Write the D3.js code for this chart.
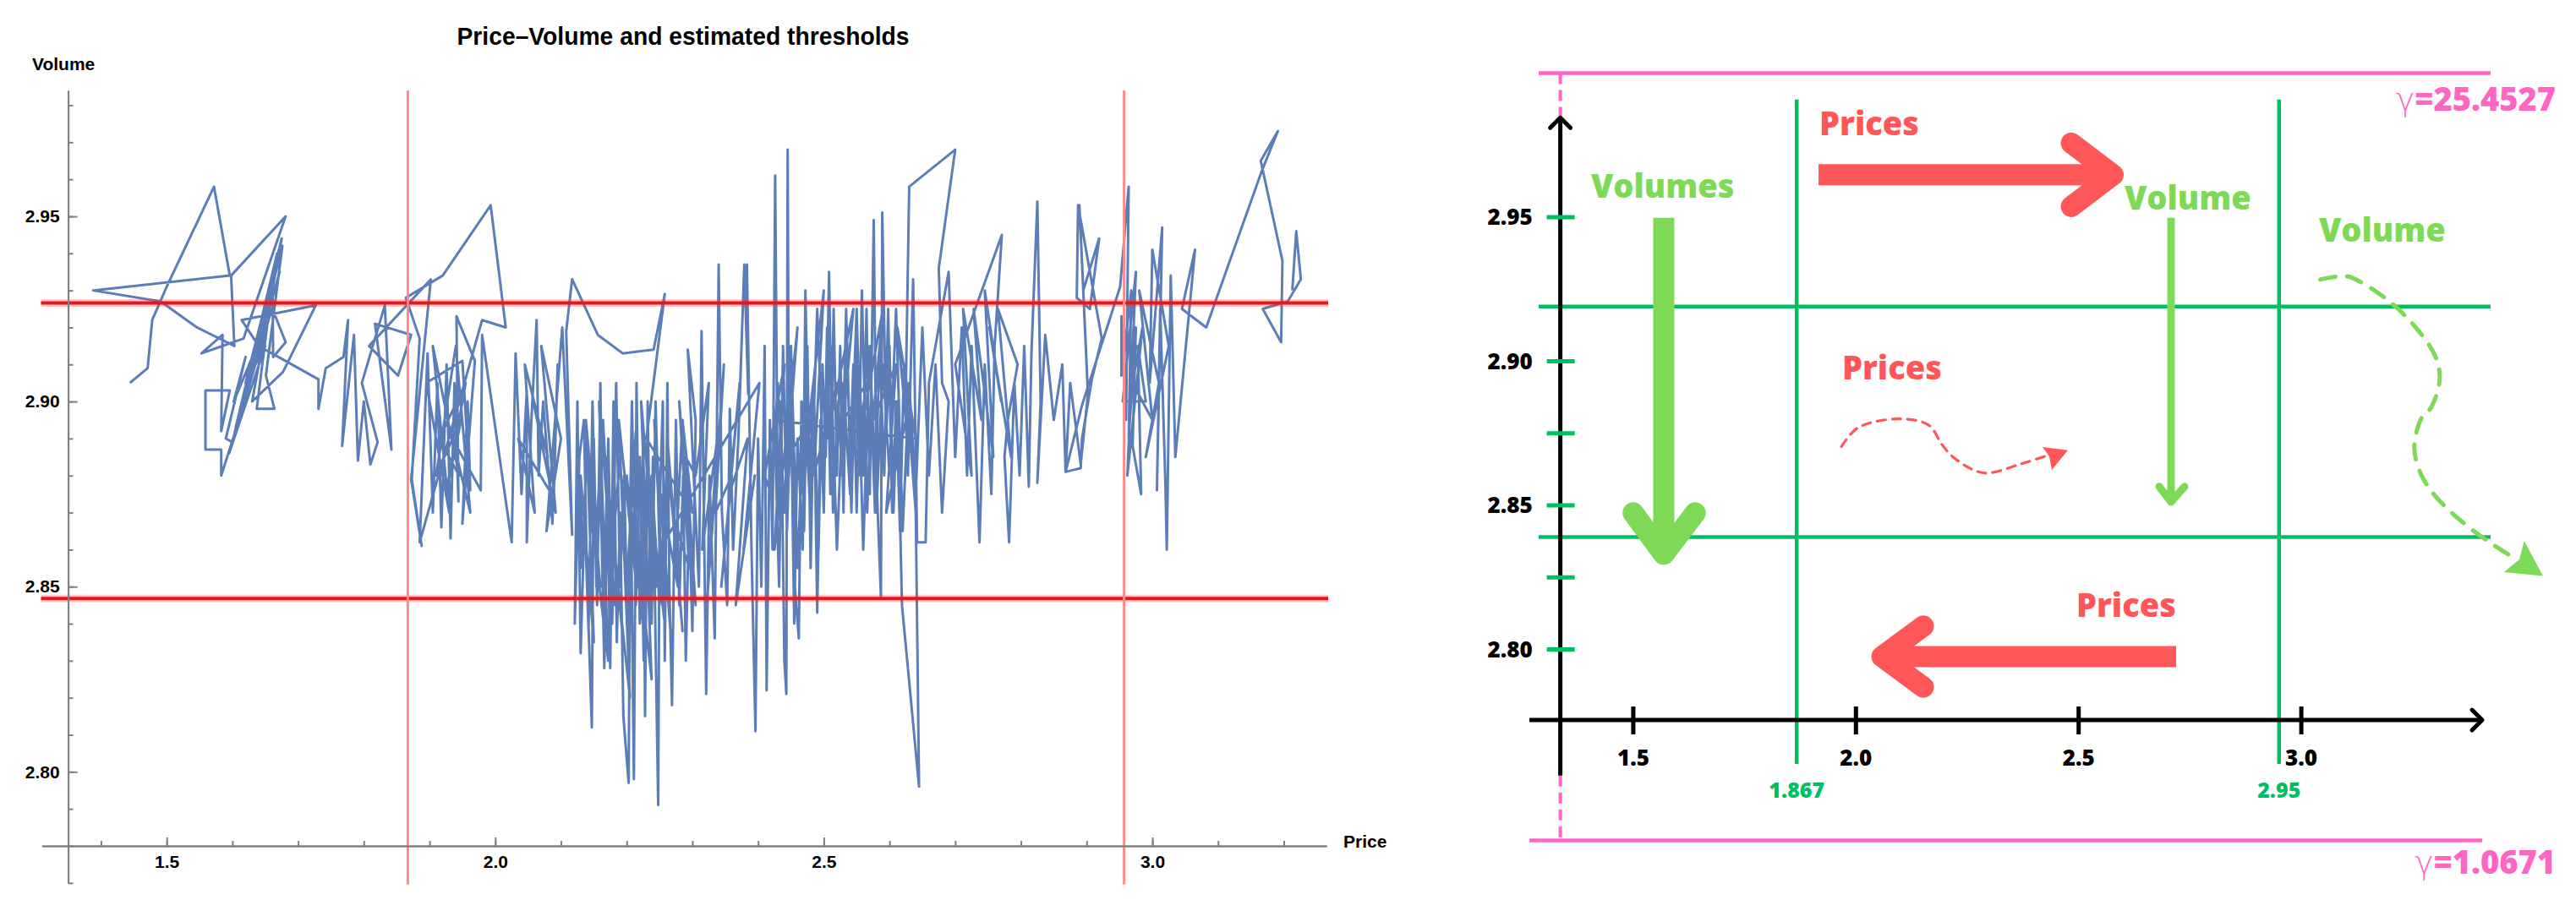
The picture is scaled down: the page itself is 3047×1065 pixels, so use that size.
<!DOCTYPE html>
<html lang="en">
<head>
<meta charset="UTF-8">
<title>Price–Volume and estimated thresholds</title>
<script src="https://cdn.jsdelivr.net/npm/d3@7"></script>
<style>
  body { margin: 0; background: #fff; }
  .mma text { font-family: "Liberation Sans", Arial, sans-serif; font-weight: bold; fill: #000; font-size: 21px; }
  .sketch text { font-family: "Open Sans", sans-serif; font-weight: 800; }
</style>
</head>
<body>
<svg id="chart" width="3047" height="1065"></svg>
<script>
// ---------- left plot: the price/volume walk ----------
// [price, volume], in drawing order
const walk = [
  [1.444,2.905],[1.471,2.909],[1.478,2.922],[1.500,2.931],[1.572,2.958],[1.596,2.934],[1.388,2.930],[1.491,2.927],
  [1.546,2.920],[1.603,2.915],[1.598,2.934],[1.681,2.950],[1.617,2.917],[1.553,2.913],[1.585,2.918],[1.583,2.892],
  [1.596,2.903],[1.559,2.903],[1.559,2.887],[1.583,2.887],[1.583,2.880],[1.610,2.895],[1.676,2.942],[1.651,2.907],
  [1.664,2.898],[1.637,2.898],[1.661,2.932],[1.662,2.912],[1.681,2.916],[1.661,2.925],[1.602,2.900],[1.620,2.912],
  [1.590,2.890],[1.600,2.889],[1.668,2.940],[1.605,2.893],[1.672,2.935],[1.612,2.897],[1.660,2.925],[1.595,2.886],
  [1.650,2.915],[1.620,2.905],[1.675,2.944],[1.630,2.900],
  [1.677,2.908],[1.727,2.926],[1.614,2.922],[1.640,2.915],[1.731,2.906],[1.731,2.898],[1.742,2.909],
  [1.769,2.912],[1.776,2.922],[1.767,2.888],[1.785,2.918],[1.791,2.884],[1.800,2.900],[1.810,2.883],[1.821,2.889],
  [1.797,2.905],[1.832,2.926],[1.842,2.887],[1.817,2.921],[1.872,2.918],[1.852,2.907],[1.808,2.915],[1.902,2.933],
  [1.872,2.879],[1.888,2.861],[1.873,2.879],[1.885,2.917],[1.864,2.928],[1.920,2.934],[1.993,2.953],[2.016,2.920],
  [1.980,2.922],[1.885,2.862],[1.897,2.913],[1.905,2.870],[1.912,2.905],[1.918,2.866],[1.926,2.910],[1.932,2.863],
  [1.938,2.905],[1.944,2.873],[1.941,2.923],[1.969,2.911],[1.950,2.867],[1.958,2.900],[1.962,2.876],[1.950,2.911],
  [1.895,2.905],[1.930,2.870],[1.905,2.915],[1.945,2.880],[1.915,2.890],[1.955,2.905],[1.925,2.875],[1.948,2.895],
  [1.910,2.880],[1.940,2.915],[1.962,2.870],[1.935,2.890],
  [1.978,2.876],[1.980,2.918],[2.025,2.862],[2.031,2.913],[2.040,2.875],[2.048,2.903],[2.048,2.862],[2.055,2.895],
  [2.063,2.922],[2.066,2.880],[2.073,2.900],[2.087,2.867],[2.095,2.910],[2.089,2.874],
  [2.035,2.890],[2.060,2.870],[2.045,2.910],[2.080,2.885],[2.058,2.900],[2.092,2.870],[2.070,2.915],[2.100,2.890],
  [2.078,2.865],
  [2.102,2.920],[2.117,2.864],
  [2.108,2.919],[2.117,2.933],[2.156,2.918],[2.194,2.913],[2.241,2.914],[2.258,2.929],[2.230,2.890],
  [2.300,2.870],[2.285,2.895],[2.275,2.860],[2.262,2.885],[2.250,2.845],[2.238,2.880],[2.226,2.858],[2.214,2.892],
  [2.200,2.850],[2.190,2.885],[2.176,2.855],[2.164,2.895],[2.152,2.860],[2.140,2.890],[2.132,2.855],
  [2.130,2.880],[2.150,2.835],[2.138,2.895],[2.160,2.850],[2.145,2.870],[2.172,2.830],[2.158,2.900],[2.182,2.845],
  [2.168,2.885],[2.195,2.835],[2.178,2.865],[2.205,2.820],[2.188,2.895],[2.215,2.850],[2.200,2.880],[2.228,2.835],
  [2.210,2.870],[2.238,2.825],[2.222,2.900],[2.246,2.850],[2.232,2.880],[2.258,2.840],[2.242,2.895],[2.268,2.835],
  [2.252,2.875],[2.278,2.850],[2.262,2.890],[2.285,2.838],[2.270,2.870],[2.295,2.855],[2.280,2.900],[2.305,2.845],
  [2.290,2.885],
  [2.305,2.880],[2.325,2.905],[2.315,2.860],[2.338,2.890],[2.322,2.845],[2.348,2.910],[2.335,2.870],[2.360,2.880],
  [2.344,2.850],[2.372,2.905],[2.356,2.875],[2.384,2.890],[2.366,2.845],[2.395,2.880],[2.378,2.860],[2.402,2.905],
  [2.250,2.860],[2.244,2.900],[2.238,2.840],[2.232,2.895],[2.226,2.830],[2.220,2.885],[2.214,2.845],[2.208,2.900],
  [2.202,2.835],[2.196,2.880],[2.190,2.850],[2.184,2.905],[2.178,2.840],[2.172,2.890],[2.166,2.828],[2.160,2.880],
  [2.154,2.850],[2.148,2.900],[2.142,2.838],[2.136,2.870],[2.130,2.832],[2.125,2.900],[2.121,2.840],
  [2.128,2.885],[2.135,2.895],[2.140,2.850],[2.147,2.812],[2.150,2.890],[2.155,2.845],[2.160,2.905],[2.165,2.838],
  [2.170,2.880],[2.175,2.828],[2.180,2.900],[2.185,2.835],[2.190,2.870],[2.195,2.815],[2.203,2.797],[2.206,2.880],
  [2.211,2.798],[2.215,2.905],[2.220,2.840],[2.225,2.890],[2.228,2.815],[2.232,2.900],[2.236,2.845],[2.240,2.885],
  [2.244,2.835],[2.248,2.791],[2.250,2.870],[2.255,2.900],[2.258,2.830],[2.262,2.905],[2.265,2.850],[2.269,2.818],
  [2.275,2.895],[2.280,2.845],[2.286,2.880],[2.290,2.830],[2.295,2.870],[2.300,2.838],[2.305,2.895],[2.293,2.914],
  [2.310,2.850],[2.314,2.919],[2.321,2.821],[2.326,2.880],[2.334,2.836],[2.340,2.937],[2.345,2.870],[2.353,2.845],
  [2.357,2.898],[2.362,2.860],[2.370,2.890],[2.379,2.937],[2.385,2.902],[2.383,2.937],[2.390,2.860],[2.396,2.811],
  [2.400,2.890],[2.405,2.850],[2.410,2.915],[2.413,2.822],[2.418,2.895],[2.422,2.860],[2.426,2.961],[2.430,2.870],
  [2.435,2.900],[2.440,2.830],[2.443,2.821],[2.445,2.968],[2.447,2.880],[2.452,2.905],[2.456,2.850],[2.462,2.836],
  [2.466,2.900],[2.470,2.865],[2.475,2.915],[2.480,2.855],[2.485,2.905],[2.490,2.843],[2.495,2.895],[2.500,2.870],
  [2.505,2.920],[2.510,2.875],[2.515,2.925],[2.520,2.880],[2.525,2.915],[2.530,2.870],[2.535,2.920],[2.540,2.885],
  [2.545,2.910],[2.550,2.870],[2.555,2.905],[2.560,2.880],[2.565,2.925],[2.570,2.875],[2.576,2.949],[2.580,2.880],
  [2.587,2.847],[2.589,2.951],[2.595,2.890],[2.600,2.915],[2.606,2.870],[2.612,2.900],[2.619,2.845],[2.645,2.796],
  [2.640,2.870],[2.625,2.905],[2.630,2.958],[2.700,2.968],[2.675,2.936],[2.680,2.905],
  [2.690,2.900],[2.680,2.870],[2.670,2.910],[2.660,2.880],[2.650,2.920],[2.640,2.875],[2.630,2.905],[2.620,2.865],
  [2.610,2.925],[2.600,2.880],[2.590,2.910],[2.580,2.870],[2.570,2.915],[2.560,2.860],[2.550,2.925],[2.540,2.875],
  [2.530,2.905],[2.520,2.860],[2.510,2.915],[2.500,2.880],[2.490,2.925],[2.480,2.870],[2.470,2.900],[2.460,2.855],
  [2.450,2.915],[2.440,2.870],[2.430,2.905],[2.420,2.875],
  [2.410,2.880],[2.440,2.910],[2.425,2.860],[2.460,2.920],[2.445,2.885],[2.480,2.895],[2.465,2.875],[2.500,2.930],
  [2.485,2.880],[2.520,2.905],[2.505,2.890],[2.545,2.925],[2.530,2.895],[2.565,2.905],[2.550,2.885],[2.590,2.925],
  [2.575,2.895],[2.610,2.910],[2.595,2.870],[2.625,2.895],[2.612,2.920],[2.640,2.890],
  [2.425,2.895],[2.432,2.850],[2.438,2.915],[2.444,2.865],[2.450,2.900],[2.455,2.840],[2.460,2.890],[2.468,2.860],
  [2.472,2.930],[2.478,2.875],[2.484,2.905],[2.492,2.860],[2.498,2.910],[2.503,2.885],[2.508,2.935],[2.514,2.870],
  [2.522,2.900],[2.528,2.880],[2.534,2.925],[2.542,2.870],[2.548,2.915],[2.553,2.880],[2.558,2.930],[2.566,2.870],
  [2.572,2.900],[2.578,2.870],[2.585,2.915],[2.592,2.880],[2.598,2.925],[2.604,2.870],[2.610,2.900],[2.616,2.865],
  [2.622,2.910],[2.628,2.880],[2.636,2.933],[2.642,2.862],[2.655,2.862],[2.660,2.905],[2.690,2.935],[2.700,2.885],
  [2.710,2.920],[2.718,2.880],[2.725,2.915],[2.737,2.862],[2.745,2.910],[2.755,2.875],[2.760,2.915],[2.771,2.945],
  [2.700,2.910],[2.725,2.880],[2.712,2.925],[2.740,2.895],[2.728,2.925],[2.758,2.885],[2.745,2.930],[2.770,2.900],
  [2.752,2.920],[2.785,2.885],[2.765,2.925],[2.795,2.910],[2.780,2.895],
  [2.775,2.885],[2.782,2.862],[2.790,2.905],[2.798,2.880],[2.805,2.915],[2.812,2.877],[2.816,2.913],[2.825,2.954],
  [2.830,2.900],[2.825,2.878],[2.837,2.918],[2.850,2.895],[2.863,2.910],[2.868,2.881],[2.875,2.905],[2.891,2.883],
  [2.902,2.902],[2.889,2.953],[2.895,2.930],[2.919,2.944],
  [2.905,2.925],[2.885,2.928],[2.887,2.953],[2.923,2.917],[2.908,2.906],[2.893,2.890],[2.891,2.882],[2.868,2.881],
  [2.893,2.899],[2.951,2.931],[2.964,2.958],[2.960,2.895],[2.953,2.923],[2.953,2.907],[2.968,2.930],[2.964,2.890],
  [2.975,2.920],[2.970,2.888],[2.983,2.875],[2.978,2.915],[2.990,2.900],
  [2.955,2.900],[2.975,2.935],[2.962,2.880],[2.985,2.920],[2.970,2.905],[3.000,2.895],[2.980,2.930],[3.010,2.905],
  [2.990,2.885],[3.025,2.915],
  [3.000,2.941],[2.996,2.905],[3.015,2.947],
  [3.007,2.876],[3.012,2.925],[3.020,2.877],[3.022,2.860],[3.028,2.934],[3.035,2.885],[3.065,2.941],[3.045,2.925],
  [3.082,2.920],[3.114,2.936],[3.166,2.962],[3.191,2.973],[3.165,2.965],[3.198,2.938],[3.196,2.916],[3.168,2.925],
  [3.206,2.927],[3.226,2.933],[3.219,2.946],[3.213,2.930]
];
const volumeThresholds = [2.9266, 2.8468];
const priceThresholds = [1.867, 2.957];
const priceTicks = [1.5, 2.0, 2.5, 3.0];
const priceMinor = d3.range(14, 33).map(d => d / 10);
const volumeTicks = [2.80, 2.85, 2.90, 2.95];
const volumeMinor = d3.range(277, 299).map(d => d / 100);

// ---------- right sketch ----------
const sketchPriceTicks = [1.5, 2.0, 2.5, 3.0];
const sketchVolumeTicks = [2.95, 2.90, 2.875, 2.85, 2.825, 2.80];
const sketchVolumeLabels = ["2.95", "2.90", "", "2.85", "", "2.80"];
const sketchPriceLines = [1.867, 2.95];
const sketchVolumeLines = [2.919, 2.839];
const gammaValues = ["25.4527", "1.0671"];
const gammaVolumes = [3.0, 2.7337];

// annotation geometry, in sketch units [price, volume]
const arrowPriceUp = { shaft: [[1.916, 2.9647], [2.5775, 2.9647]], head: [[2.4835, 2.9757], [2.5775, 2.9647], [2.4835, 2.9537]] };
const arrowVolumesDown = { shaft: [[1.5685, 2.9498], [1.5685, 2.833]], head: [[1.4998, 2.8474], [1.5685, 2.833], [1.6391, 2.8474]] };
const arrowPriceDown = { shaft: [[2.7189, 2.7975], [2.0583, 2.7975]], head: [[2.1513, 2.8081], [2.0583, 2.7975], [2.1513, 2.7869]] };
const arrowVolumeThin = { shaft: [[2.7075, 2.9498], [2.7075, 2.8512]], head: [[2.6809, 2.8565], [2.7075, 2.8512], [2.7379, 2.8565]] };
const priceWiggle = [[1.9674,2.8704],[2.0051,2.8770],[2.0957,2.8800],[2.1627,2.8779],[2.1940,2.8709],[2.2177,2.8668],
  [2.2648,2.8622],[2.2963,2.8612],[2.3671,2.8642],[2.4301,2.8673]];
const priceWiggleHead = [[2.4759,2.8691],[2.4189,2.8702],[2.4341,2.8670],[2.4398,2.8623]];
const volumeCurl = [[3.0429,2.9284],[3.1021,2.9295],[3.1399,2.9269],[3.2007,2.9204],[3.2538,2.9123],[3.2994,2.9022],
  [3.3108,2.8941],[3.2918,2.8840],[3.2690,2.8800],[3.2538,2.8699],[3.2690,2.8607],[3.2994,2.8535],[3.3525,2.8454],
  [3.4133,2.8382],[3.4740,2.8321]];
const volumeCurlHead = [[3.5424,2.8255],[3.5006,2.8377],[3.4897,2.8312],[3.4551,2.8268]];
const words = [
  { text: "Prices", at: [1.918, 2.9785], color: "red" },
  { text: "Volumes", at: [1.4053, 2.9568], color: "lime" },
  { text: "Prices", at: [1.9691, 2.8936], color: "red" },
  { text: "Volume", at: [2.6031, 2.9527], color: "lime" },
  { text: "Volume", at: [3.0397, 2.9414], color: "lime" },
  { text: "Prices", at: [2.4949, 2.8114], color: "red" }
];

const svg = d3.select("#chart");

// ================= left: Mathematica-style plot =================
const left = svg.append("g").attr("class", "mma");
const x = d3.scaleLinear().domain([1.31, 3.265]).range([49.5, 1569]);
const y = d3.scaleLinear().domain([2.77, 2.984]).range([1044.8, 107]);
const originP = 1.35, originV = 2.78;

left.append("path")
  .datum(walk)
  .attr("d", d3.line().x(d => x(d[0])).y(d => y(d[1])))
  .attr("fill", "none")
  .attr("stroke", "#5b7eb8")
  .attr("stroke-width", 3)
  .attr("stroke-linejoin", "round");

// thresholds
left.selectAll(".hglow").data(volumeThresholds).join("line")
  .attr("x1", x.range()[0] - 1).attr("x2", x.range()[1] + 2)
  .attr("y1", d => y(d)).attr("y2", d => y(d))
  .attr("stroke", "rgba(255,40,40,0.25)").attr("stroke-width", 9);
left.selectAll(".hline").data(volumeThresholds).join("line")
  .attr("x1", x.range()[0] - 1).attr("x2", x.range()[1] + 2)
  .attr("y1", d => y(d)).attr("y2", d => y(d))
  .attr("stroke", "#e8151b").attr("stroke-width", 4);
left.selectAll(".vline").data(priceThresholds).join("line")
  .attr("x1", d => x(d)).attr("x2", d => x(d))
  .attr("y1", y.range()[0] + 2).attr("y2", y.range()[1])
  .attr("stroke", "#ff8a8a").attr("stroke-width", 3);

// axes
const axisGrey = "#808080";
function styleAxis(g) {
  g.select(".domain").attr("stroke", axisGrey).attr("stroke-width", 2);
  g.selectAll(".tick line").attr("stroke", axisGrey).attr("stroke-width", 2);
}
left.append("g").attr("transform", `translate(0,${y(originV)})`)
  .call(d3.axisBottom(x).tickValues(priceMinor).tickSizeInner(-6).tickSizeOuter(0).tickFormat(""))
  .call(styleAxis);
left.append("g").attr("transform", `translate(0,${y(originV)})`)
  .call(d3.axisBottom(x).tickValues(priceTicks).tickSizeInner(-10).tickSizeOuter(0).tickPadding(11).tickFormat(d3.format(".1f")))
  .call(styleAxis);
left.append("g").attr("transform", `translate(${x(originP)},0)`)
  .call(d3.axisLeft(y).tickValues(volumeMinor).tickSizeInner(-6).tickSizeOuter(0).tickFormat(""))
  .call(styleAxis);
left.append("g").attr("transform", `translate(${x(originP)},0)`)
  .call(d3.axisLeft(y).tickValues(volumeTicks).tickSizeInner(-11).tickSizeOuter(0).tickPadding(10).tickFormat(d3.format(".2f")))
  .call(styleAxis);

left.append("text").attr("x", 808).attr("y", 53).attr("text-anchor", "middle")
  .attr("textLength", 535).attr("lengthAdjust", "spacingAndGlyphs")
  .style("font-size", "29px").text("Price–Volume and estimated thresholds");
left.append("text").attr("x", 38).attr("y", 83).text("Volume");
left.append("text").attr("x", 1589).attr("y", 1003).text("Price");

// ================= right: hand sketch =================
const sketch = svg.append("g").attr("class", "sketch");
const sx = d3.scaleLinear().domain([1.5, 3.0]).range([1931.9, 2722.1]);
const sy = d3.scaleLinear().domain([2.80, 2.95]).range([768.5, 257]);
const line = d3.line().x(d => sx(d[0])).y(d => sy(d[1]));
const PINK = "#ff66c4", GREEN = "#00bf63", LIME = "#7ed957", RED = "#ff5757";
const axisP = 1.3362, axisV = 2.7755;

function seg(pts, color, w, extra) {
  const p = sketch.append("path").attr("d", line(pts)).attr("fill", "none")
    .attr("stroke", color).attr("stroke-width", w);
  if (extra) extra(p);
  return p;
}

// pink bounds
seg([[1.2876, gammaVolumes[0]], [3.425, gammaVolumes[0]]], PINK, 4.5);
seg([[1.2667, gammaVolumes[1]], [3.4061, gammaVolumes[1]]], PINK, 4.5);
seg([[axisP, gammaVolumes[0]], [axisP, 2.9845]], PINK, 4, p => p.attr("stroke-dasharray", "13 7"));
seg([[axisP, 2.7562], [axisP, gammaVolumes[1]]], PINK, 4, p => p.attr("stroke-dasharray", "13 7"));

// green thresholds
sketchVolumeLines.forEach(v => seg([[1.2876, v], [3.425, v]], GREEN, 4.5));
sketchPriceLines.forEach(p => seg([[p, 2.7603], [p, 2.9908]], GREEN, 4.5));

// black axes with open arrowheads
seg([[axisP, 2.7562], [axisP, 2.9845]], "#000", 5);
seg([[1.2667, axisV], [3.4061, axisV]], "#000", 5);
const yTip = [sx(axisP), sy(2.9845)], xTip = [sx(3.4061), sy(axisV)];
sketch.append("path").attr("d", `M${yTip[0] - 12},${yTip[1] + 12}L${yTip[0]},${yTip[1]}L${yTip[0] + 12},${yTip[1] + 12}`)
  .attr("fill", "none").attr("stroke", "#000").attr("stroke-width", 5).attr("stroke-linecap", "round").attr("stroke-linejoin", "round");
sketch.append("path").attr("d", `M${xTip[0] - 12},${xTip[1] - 12}L${xTip[0]},${xTip[1]}L${xTip[0] - 12},${xTip[1] + 12}`)
  .attr("fill", "none").attr("stroke", "#000").attr("stroke-width", 5).attr("stroke-linecap", "round").attr("stroke-linejoin", "round");

// ticks
sketch.selectAll(".xt").data(sketchPriceTicks).join("line")
  .attr("x1", d => sx(d)).attr("x2", d => sx(d))
  .attr("y1", sy(axisV) - 16).attr("y2", sy(axisV) + 17)
  .attr("stroke", "#000").attr("stroke-width", 5);
sketch.selectAll(".xl").data(sketchPriceTicks).join("text")
  .attr("x", d => sx(d)).attr("y", sy(axisV) + 54).attr("text-anchor", "middle")
  .style("font-size", "26px").attr("fill", "#000").text(d3.format(".1f"));
sketch.selectAll(".yt").data(sketchVolumeTicks).join("line")
  .attr("x1", sx(axisP) - 16).attr("x2", sx(axisP) + 17)
  .attr("y1", d => sy(d)).attr("y2", d => sy(d))
  .attr("stroke", GREEN).attr("stroke-width", 5);
sketch.selectAll(".yl").data(sketchVolumeTicks).join("text")
  .attr("x", sx(axisP) - 33).attr("y", d => sy(d)).attr("dy", "0.35em").attr("text-anchor", "end")
  .style("font-size", "26px").attr("fill", "#000").text((d, i) => sketchVolumeLabels[i]);
sketch.selectAll(".tl").data(sketchPriceLines).join("text")
  .attr("x", d => sx(d)).attr("y", sy(axisV) + 92).attr("text-anchor", "middle")
  .style("font-size", "25px").attr("fill", GREEN).text(d => d);

// arrows
function arrow(a, color, w) {
  seg(a.shaft, color, w);
  seg(a.head, color, w, p => p.attr("stroke-linecap", "round").attr("stroke-linejoin", "round"));
}
arrow(arrowPriceUp, RED, 25);
arrow(arrowVolumesDown, LIME, 25);
arrow(arrowPriceDown, RED, 25);
arrow(arrowVolumeThin, LIME, 9);

// dashed curly arrows
const smooth = d3.line().x(d => sx(d[0])).y(d => sy(d[1])).curve(d3.curveCatmullRom);
sketch.append("path").attr("d", smooth(priceWiggle)).attr("fill", "none").attr("stroke", RED)
  .attr("stroke-width", 3.2).attr("stroke-dasharray", "10 8").attr("stroke-linecap", "round");
sketch.append("path").attr("d", line(priceWiggleHead) + "Z").attr("fill", RED);
sketch.append("path").attr("d", smooth(volumeCurl)).attr("fill", "none").attr("stroke", LIME)
  .attr("stroke-width", 5).attr("stroke-dasharray", "18 14").attr("stroke-linecap", "round");
sketch.append("path").attr("d", line(volumeCurlHead) + "Z").attr("fill", LIME);

// words
sketch.selectAll(".word").data(words).join("text")
  .attr("x", d => sx(d.at[0])).attr("y", d => sy(d.at[1]))
  .attr("fill", d => d.color === "red" ? RED : LIME)
  .style("font-size", "38px").text(d => d.text);

// gamma labels
const gl = sketch.selectAll(".gamma").data(gammaValues).join("text")
  .attr("x", sx(3.5712)).attr("y", (d, i) => i === 0 ? sy(2.9870) : sy(2.7220))
  .attr("text-anchor", "end").attr("fill", PINK).style("font-size", "38px");
gl.append("tspan").style("font-family", "'DejaVu Sans', sans-serif").style("font-weight", "300").text("γ");
gl.append("tspan").text(d => "=" + d);
</script>
</body>
</html>
